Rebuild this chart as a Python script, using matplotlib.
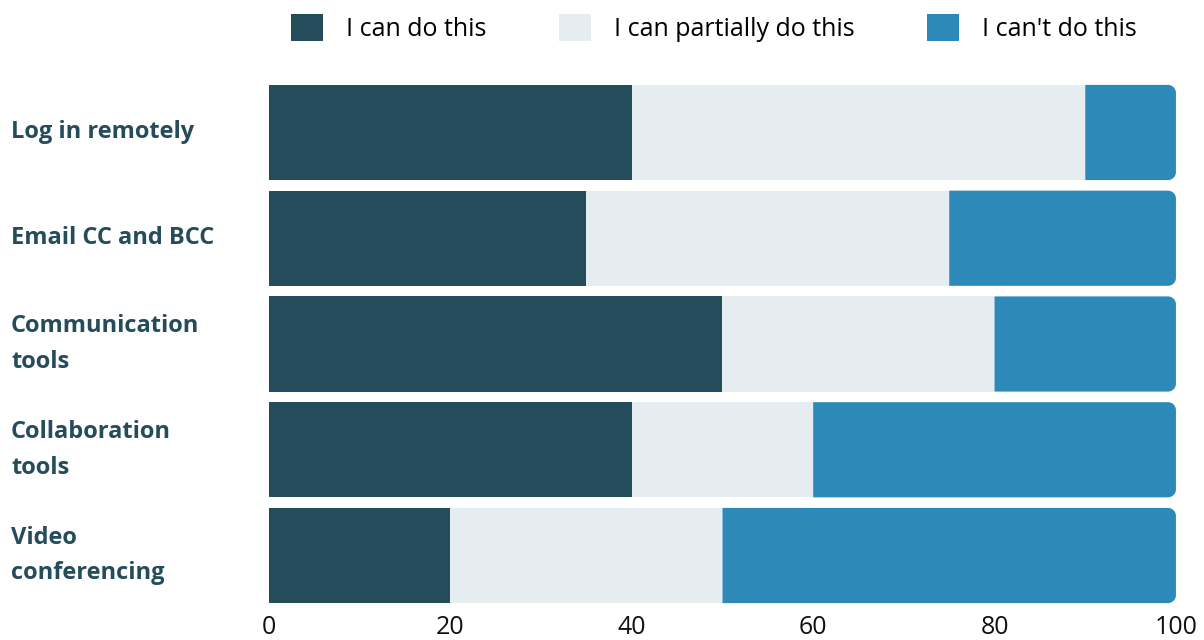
import matplotlib.pyplot as plt
import matplotlib.transforms as mtransforms
from matplotlib.patches import Patch, Polygon
import numpy as np

#====Data====
categories = ['Log in remotely', 'Email CC and BCC', 'Communication\ntools',
              'Collaboration\ntools', 'Video\nconferencing']
can_do = [40, 35, 50, 40, 20]
partial = [50, 40, 30, 20, 30]
cant_do = [10, 25, 20, 40, 50]
series_names = ['I can do this', 'I can partially do this', "I can't do this"]
colors = ['#254c5a', '#e6edf1', '#2d8ab8']
xticks = [0, 20, 40, 60, 80, 100]

plt.rcParams['font.family'] = ['Open Sans', 'DejaVu Sans']

fig = plt.figure(figsize=(12.04, 6.4), dpi=100)
ax = fig.add_axes([0.2234, 0.0494, 0.7533, 0.8262])

y = np.arange(len(categories))
h = 0.9
ax.barh(y, can_do, height=h, color=colors[0], linewidth=0)
ax.barh(y, partial, left=can_do, height=h, color=colors[1], linewidth=0)

ax.set_xlim(0, 100)
ax.set_ylim(len(categories) - 0.5, -0.5)

#====last segment, rounded on the right====
x_px = ax.get_window_extent().width / 100
y_px = ax.get_window_extent().height / len(categories)
rx = 8 / x_px
ry = 8 / y_px
t = np.linspace(0, np.pi / 2, 12)
for i in range(len(categories)):
    x0 = can_do[i] + partial[i]
    x1 = x0 + cant_do[i]
    y0, y1 = i - h / 2, i + h / 2
    pts = [(x0, y0)]
    pts += [(x1 - rx + rx * np.sin(a), y0 + ry - ry * np.cos(a)) for a in t]
    pts += [(x1 - rx + rx * np.cos(a), y1 - ry + ry * np.sin(a)) for a in t]
    pts += [(x0, y1)]
    ax.add_patch(Polygon(pts, closed=True, facecolor=colors[2], linewidth=0))

ax.set_xticks(xticks)
ax.set_xticklabels([str(v) for v in xticks], fontsize=18, color='#111111')
ax.tick_params(axis='x', length=0, pad=4.5)
ax.set_yticks([])
for s in ax.spines.values():
    s.set_visible(False)

trans = mtransforms.blended_transform_factory(fig.transFigure, ax.transData)
for i, lab in enumerate(categories):
    ax.text(11 / 1204, i, lab, transform=trans, ha='left', va='center',
            fontsize=17, fontweight='bold', color='#254c5a', linespacing=1.65)

handles = [Patch(facecolor=c, edgecolor='none') for c in colors]
fig.legend(handles, series_names, loc='center', bbox_to_anchor=(714 / 1204, 1 - 28 / 640),
           ncol=3, frameon=False, fontsize=18, handlelength=1.28, handleheight=1.28,
           handletextpad=0.92, columnspacing=2.9, borderpad=0)

fig.savefig('out.png', dpi=100)
